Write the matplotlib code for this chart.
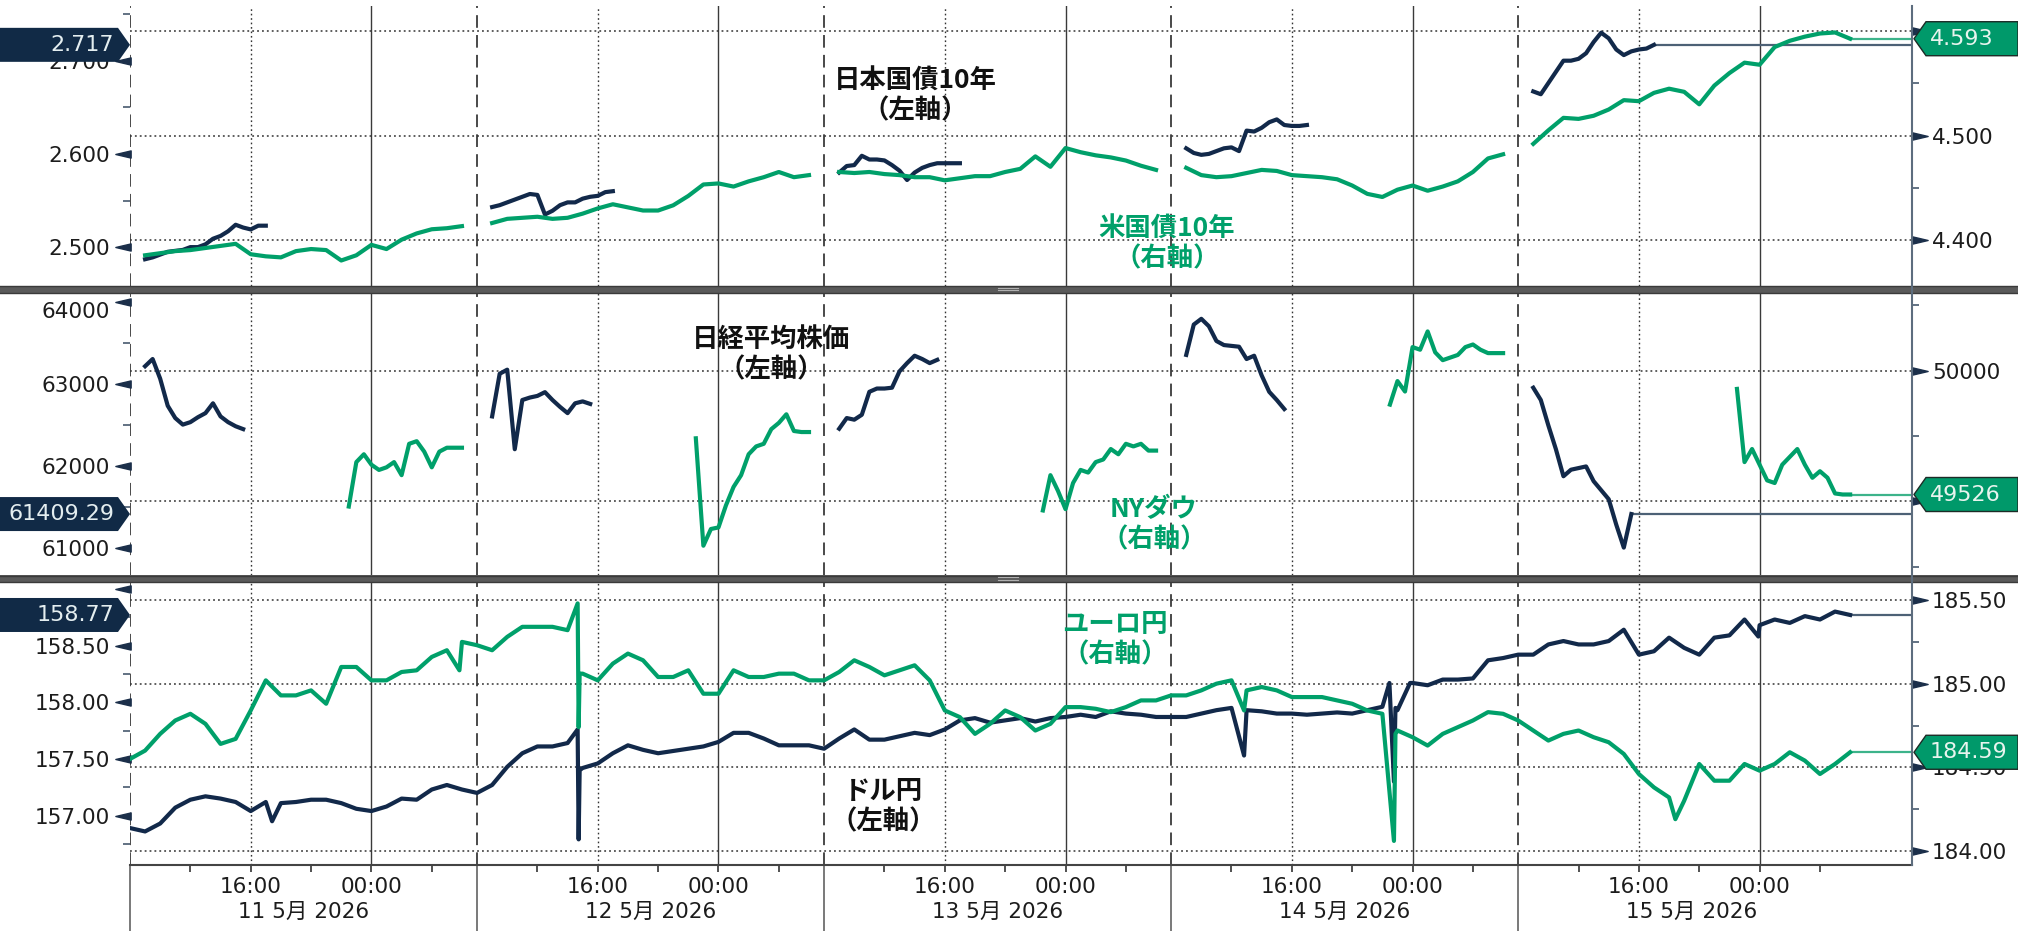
import numpy as np
import pandas as pd
import matplotlib
matplotlib.use("Agg")
import matplotlib.pyplot as plt
import matplotlib.transforms as mtrans
from matplotlib.patches import Polygon, Rectangle
from matplotlib.path import Path
from matplotlib.lines import Line2D

plt.rcParams['font.family'] = ['DejaVu Sans', 'Noto Sans CJK JP']

# ---------------- data ----------------
session_dates = ["2026-05-11", "2026-05-12", "2026-05-13", "2026-05-14", "2026-05-15"]
day_labels = ["11 5月 2026", "12 5月 2026", "13 5月 2026", "14 5月 2026", "15 5月 2026"]
x_major_labels = ["16:00", "00:00"]

# Japan 10Y JGB yield (left axis, top panel), 30-min from 09:00
jgb_11 = [2.487, 2.489, 2.492, 2.495, 2.496, 2.497, 2.500, 2.500, 2.503, 2.509, 2.512, 2.517, 2.524, 2.521, 2.519, 2.523, 2.523]
jgb_12 = [2.543, 2.545, 2.548, 2.551, 2.554, 2.557, 2.556, 2.535, 2.539, 2.545, 2.548, 2.548, 2.552, 2.554, 2.555, 2.559, 2.560]
jgb_13 = [2.580, 2.587, 2.588, 2.598, 2.594, 2.594, 2.593, 2.588, 2.582, 2.572, 2.580, 2.585, 2.588, 2.590, 2.590, 2.590, 2.590]
jgb_14 = [2.606, 2.601, 2.599, 2.600, 2.603, 2.606, 2.607, 2.603, 2.625, 2.624, 2.628, 2.634, 2.637, 2.631, 2.630, 2.630, 2.631]
jgb_15 = [2.667, 2.664, 2.676, 2.688, 2.700, 2.700, 2.702, 2.708, 2.720, 2.730, 2.724, 2.712, 2.706, 2.710, 2.712, 2.713, 2.717]
jgb_last = 2.717

# US 10Y yield (right axis, top panel), hourly from 09:00
ust_11 = [4.385, 4.387, 4.389, 4.390, 4.392, 4.394, 4.396, 4.386, 4.384, 4.383, 4.389, 4.391, 4.390, 4.380, 4.385, 4.395, 4.391, 4.400, 4.406, 4.410, 4.411, 4.413]
ust_12 = [4.416, 4.420, 4.421, 4.422, 4.420, 4.421, 4.425, 4.430, 4.434, 4.431, 4.428, 4.428, 4.433, 4.442, 4.453, 4.454, 4.451, 4.456, 4.460, 4.465, 4.460, 4.462]
ust_13 = [4.465, 4.464, 4.465, 4.463, 4.462, 4.460, 4.460, 4.457, 4.459, 4.461, 4.461, 4.465, 4.468, 4.480, 4.470, 4.488, 4.484, 4.481, 4.479, 4.476, 4.471, 4.467]
ust_14 = [4.469, 4.462, 4.460, 4.461, 4.464, 4.467, 4.466, 4.462, 4.461, 4.460, 4.458, 4.452, 4.444, 4.441, 4.448, 4.452, 4.447, 4.451, 4.456, 4.465, 4.478, 4.482]
ust_15 = [4.492, 4.505, 4.517, 4.516, 4.519, 4.525, 4.534, 4.533, 4.541, 4.545, 4.542, 4.530, 4.548, 4.560, 4.570, 4.568, 4.585, 4.591, 4.595, 4.598, 4.599, 4.593]
ust_last = 4.593

# Nikkei 225 (left axis, middle panel), 30-min from 09:00
nk_11 = [63212, 63300, 63060, 62730, 62580, 62500, 62530, 62590, 62640, 62760, 62600, 62530, 62480, 62445]
nk_12 = [62600, 63120, 63170, 62200, 62800, 62830, 62850, 62896, 62800, 62716, 62640, 62760, 62783, 62752]
nk_13 = [62450, 62580, 62560, 62620, 62900, 62940, 62940, 62950, 63150, 63250, 63340, 63300, 63250, 63290]
nk_14 = [63350, 63720, 63790, 63700, 63520, 63470, 63460, 63450, 63300, 63340, 63100, 62900, 62800, 62690]
nk_15 = [62950, 62800, 62490, 62200, 61870, 61950, 61970, 61990, 61810, 61700, 61590, 61280, 61000, 61409.29]
nk_last = 61409.29

# NY Dow (right axis, middle panel), 30-min from 22:30
dow_11 = [49480, 49650, 49680, 49640, 49620, 49630, 49650, 49600, 49720, 49730, 49690, 49630, 49690, 49705, 49705, 49705]
dow_12 = [49741, 49330, 49394, 49400, 49485, 49555, 49600, 49680, 49710, 49720, 49776, 49800, 49833, 49769, 49765, 49765]
dow_13 = [49465, 49600, 49540, 49470, 49570, 49620, 49610, 49650, 49660, 49700, 49680, 49720, 49710, 49720, 49694, 49694]
dow_14 = [49870, 49960, 49920, 50090, 50080, 50150, 50070, 50040, 50050, 50060, 50090, 50100, 50080, 50067, 50067, 50067]
dow_15 = [49930, 49650, 49700, 49640, 49580, 49570, 49640, 49670, 49700, 49640, 49590, 49615, 49590, 49530, 49526, 49526]
dow_last = 49526

# USD/JPY (left axis, bottom panel), hourly from 08:00 (23 per session)
usd_11 = [156.89, 156.86, 156.93, 157.07, 157.14, 157.17, 157.15, 157.12, 157.04, 157.12, 157.11, 157.12, 157.14, 157.14, 157.11, 157.06, 157.04, 157.08, 157.15, 157.14, 157.23, 157.27, 157.23]
usd_12 = [157.20, 157.27, 157.43, 157.55, 157.61, 157.61, 157.64, 157.42, 157.46, 157.55, 157.62, 157.58, 157.55, 157.57, 157.59, 157.61, 157.65, 157.73, 157.73, 157.68, 157.62, 157.62, 157.62]
usd_13 = [157.59, 157.68, 157.76, 157.67, 157.67, 157.70, 157.73, 157.71, 157.76, 157.84, 157.86, 157.82, 157.84, 157.86, 157.83, 157.86, 157.87, 157.89, 157.87, 157.92, 157.90, 157.89, 157.87]
usd_14 = [157.87, 157.87, 157.90, 157.93, 157.95, 157.93, 157.92, 157.90, 157.90, 157.89, 157.90, 157.91, 157.90, 157.93, 157.96, 157.93, 158.17, 158.15, 158.20, 158.20, 158.21, 158.37, 158.39]
usd_15 = [158.42, 158.42, 158.51, 158.54, 158.51, 158.51, 158.54, 158.64, 158.42, 158.45, 158.57, 158.48, 158.42, 158.57, 158.59, 158.73, 158.68, 158.73, 158.70, 158.76, 158.73, 158.80, 158.77]
usd_spike_time = ["2026-05-11 17:25", "2026-05-12 14:40", "2026-05-12 14:44", "2026-05-12 14:48",
                  "2026-05-14 12:50", "2026-05-14 22:28", "2026-05-14 22:46", "2026-05-14 22:52",
                  "2026-05-14 23:50", "2026-05-15 23:55"]
usd_spike_val = [156.95, 157.76, 156.79, 157.40, 157.53, 158.17, 157.30, 157.95, 158.17, 158.58]
usd_last = 158.77

# EUR/JPY (right axis, bottom panel), hourly from 08:00 (23 per session)
eur_11 = [184.55, 184.60, 184.70, 184.78, 184.82, 184.76, 184.64, 184.67, 184.84, 185.02, 184.93, 184.93, 184.96, 184.88, 185.10, 185.10, 185.02, 185.02, 185.07, 185.08, 185.16, 185.20, 185.25]
eur_12 = [185.23, 185.20, 185.28, 185.34, 185.34, 185.34, 185.32, 185.06, 185.02, 185.12, 185.18, 185.14, 185.04, 185.04, 185.08, 184.94, 184.94, 185.08, 185.04, 185.04, 185.06, 185.06, 185.02]
eur_13 = [185.02, 185.07, 185.14, 185.10, 185.05, 185.08, 185.11, 185.02, 184.84, 184.80, 184.70, 184.76, 184.84, 184.80, 184.72, 184.76, 184.86, 184.86, 184.85, 184.83, 184.86, 184.90, 184.90]
eur_14 = [184.93, 184.93, 184.96, 185.00, 185.02, 184.96, 184.98, 184.96, 184.92, 184.92, 184.92, 184.90, 184.88, 184.84, 184.82, 184.72, 184.68, 184.63, 184.70, 184.74, 184.78, 184.83, 184.82]
eur_15 = [184.78, 184.72, 184.66, 184.70, 184.72, 184.68, 184.65, 184.58, 184.46, 184.38, 184.32, 184.30, 184.52, 184.42, 184.42, 184.52, 184.48, 184.52, 184.59, 184.54, 184.46, 184.52, 184.59]
eur_spike_time = ["2026-05-12 05:50", "2026-05-12 14:40", "2026-05-12 14:44", "2026-05-12 14:48",
                  "2026-05-14 12:50", "2026-05-14 22:46", "2026-05-14 22:52", "2026-05-15 18:25"]
eur_spike_val = [185.08, 185.48, 184.74, 185.06, 184.84, 184.06, 184.70, 184.19]
eur_last = 184.59

# axis ticks (labels that sit fully under a value tag are left blank)
p1_left_major = [2.5, 2.6, 2.7];  p1_left_minor = [2.55, 2.65, 2.75]
p1_left_labels = ["2.500", "2.600", "2.700"]
p1_right_major = [4.4, 4.5, 4.6]; p1_right_minor = [4.45, 4.55]
p1_right_labels = ["4.400", "4.500", ""]
p2_left_major = [61000, 62000, 63000, 64000]; p2_left_minor = [61500, 62500, 63500]
p2_left_labels = ["61000", "62000", "63000", ""]
p2_right_major = [49500, 50000]; p2_right_minor = [49250, 49750, 50250]
p2_right_labels = ["", "50000"]
p3_left_major = [157.0, 157.5, 158.0, 158.5, 159.0]; p3_left_minor = [156.75, 157.25, 157.75, 158.25, 158.75]
p3_left_labels = ["157.00", "157.50", "158.00", "158.50", ""]
p3_right_major = [184.0, 184.5, 185.0, 185.5]; p3_right_minor = [184.25, 184.75, 185.25]
p3_right_labels = ["184.00", "184.50", "185.00", "185.50"]

# ---------------- helpers ----------------
BASE = pd.Timestamp(session_dates[0] + " 08:00")
HRS_PER_SESSION = 23  # each day shown from 08:00 to 07:00


def to_h(ts):
    ts = pd.DatetimeIndex(ts)
    hours = np.asarray((ts - BASE) / pd.Timedelta(hours=1), dtype=float)
    k = np.floor(hours / 24.0)
    return HRS_PER_SESSION * k + (hours - 24.0 * k)


def sessions(start_hhmm, arrays, freq):
    out = []
    for d, v in zip(session_dates, arrays):
        t = pd.date_range(f"{d} {start_hhmm}", periods=len(v), freq=freq)
        out.append((to_h(t), np.asarray(v, float)))
    return out


def continuous(arrays, spike_t, spike_v):
    times, vals = [], []
    for d, v in zip(session_dates, arrays):
        times += list(pd.date_range(f"{d} 08:00", periods=len(v), freq="h"))
        vals += list(v)
    s = pd.Series(vals + list(spike_v), index=times + list(pd.to_datetime(spike_t))).sort_index()
    return [(to_h(s.index), s.values.astype(float))]


jgb = sessions("09:00", [jgb_11, jgb_12, jgb_13, jgb_14, jgb_15], "30min")
ust = sessions("09:00", [ust_11, ust_12, ust_13, ust_14, ust_15], "h")
nk = sessions("09:00", [nk_11, nk_12, nk_13, nk_14, nk_15], "30min")
dow = sessions("22:30", [dow_11, dow_12, dow_13, dow_14, dow_15], "30min")
usd = continuous([usd_11, usd_12, usd_13, usd_14, usd_15], usd_spike_time, usd_spike_val)
eur = continuous([eur_11, eur_12, eur_13, eur_14, eur_15], eur_spike_time, eur_spike_val)

# ---------------- figure ----------------
W, H = 2018, 931
fig = plt.figure(figsize=(W / 100, H / 100), dpi=100)
XL, XR = 130, 1912
XMAX = 118.1
rows = [(5.5, 286.0), (293.0, 575.0), (582.0, 865.0)]

NAVY = '#12294a'
GREEN = '#00a06a'
GRID = '#333333'
TICKC = '#1c1c1c'
LBL = 15.5

panels = [
    dict(left=jgb, right=ust, llim=(2.4583, 2.7592), rlim=(4.3555, 4.6249),
         lmaj=p1_left_major, lmin=p1_left_minor, rmaj=p1_right_major, rmin=p1_right_minor,
         llab=p1_left_labels, rlab=p1_right_labels,
         llast=jgb_last, rlast=ust_last, ltag='2.717', rtag='4.593'),
    dict(left=nk, right=dow, llim=(60666, 64105), rlim=(49218, 50297),
         lmaj=p2_left_major, lmin=p2_left_minor, rmaj=p2_right_major, rmin=p2_right_minor,
         llab=p2_left_labels, rlab=p2_right_labels,
         llast=nk_last, rlast=dow_last, ltag='61409.29', rtag='49526'),
    dict(left=usd, right=eur, llim=(156.564, 159.061), rlim=(183.916, 185.608),
         lmaj=p3_left_major, lmin=p3_left_minor, rmaj=p3_right_major, rmin=p3_right_minor,
         llab=p3_left_labels, rlab=p3_right_labels,
         llast=usd_last, rlast=eur_last, ltag='158.77', rtag='184.59'),
]

tri_left = Path([(-1, 0), (1, 0.47), (1, -0.47), (-1, 0)],
                [Path.MOVETO, Path.LINETO, Path.LINETO, Path.CLOSEPOLY])
tri_right = Path([(1, 0), (-1, 0.47), (-1, -0.47), (1, 0)],
                 [Path.MOVETO, Path.LINETO, Path.LINETO, Path.CLOSEPOLY])

axes_pairs = []
for (top, bot), P in zip(rows, panels):
    a = fig.add_axes([XL / W, 1 - bot / H, (XR - XL) / W, (bot - top) / H])
    b = a.twinx()
    axes_pairs.append((a, b))
    a.set_xlim(0, XMAX)
    a.set_ylim(*P['llim'])
    b.set_ylim(*P['rlim'])
    for s in list(a.spines.values()) + list(b.spines.values()):
        s.set_visible(False)

    # vertical guides
    for k in range(5):
        a.axvline(23 * k, color='#3a3a3a', lw=1.3, ls=(0, (7, 4)), zorder=0.5)
        a.axvline(23 * k + 8, color=GRID, lw=1.0, ls=(0, (1.2, 2.0)), zorder=0.5)
        a.axvline(23 * k + 16, color='#3a3a3a', lw=1.0, zorder=0.5)
    # horizontal grid on right-axis majors
    tr = mtrans.blended_transform_factory(a.transAxes, b.transData)
    for v in P['rmaj']:
        a.plot([0, 1], [v, v], transform=tr, color=GRID, lw=1.1, ls=(0, (1.2, 2.0)), zorder=0.5)

    # y ticks
    a.set_yticks(P['lmaj'])
    a.set_yticks(P['lmin'], minor=True)
    b.set_yticks(P['rmaj'])
    b.set_yticks(P['rmin'], minor=True)
    a.set_yticklabels(P['llab'])
    b.set_yticklabels(P['rlab'])
    a.tick_params(axis='y', which='major', length=0, pad=14.5, labelsize=LBL, labelcolor=TICKC)
    b.tick_params(axis='y', which='major', length=0, pad=14.5, labelsize=LBL, labelcolor=TICKC)
    for ax_ in (a, b):
        ax_.tick_params(axis='y', which='minor', length=5, width=1.3, color='#56677a')
    a.tick_params(axis='x', which='both', bottom=False, labelbottom=False)

    # triangle major tick marks
    off_l = mtrans.ScaledTranslation(-7.5 / 100, 0, fig.dpi_scale_trans)
    off_r = mtrans.ScaledTranslation(7.5 / 100, 0, fig.dpi_scale_trans)
    a.plot([0] * len(P['lmaj']), P['lmaj'], ls='none', marker=tri_left, ms=11, color='#1b2f4a',
           transform=a.get_yaxis_transform() + off_l, clip_on=False, zorder=5)
    b.plot([1] * len(P['rmaj']), P['rmaj'], ls='none', marker=tri_right, ms=11, color='#1b2f4a',
           transform=b.get_yaxis_transform() + off_r, clip_on=False, zorder=5)

    # series
    for t, v in P['left']:
        a.plot(t, v, color=NAVY, lw=3.0, zorder=3)
    for t, v in P['right']:
        b.plot(t, v, color=GREEN, lw=3.0, zorder=3)
    tl = P['left'][-1][0][-1]
    tr_ = P['right'][-1][0][-1]
    a.plot([tl, XMAX], [P['llast'], P['llast']], color='#4d6176', lw=1.6, zorder=2)
    b.plot([tr_, XMAX], [P['rlast'], P['rlast']], color='#3cb38a', lw=1.6, zorder=2)

# 64000 label sits a little below its tick (top edge of the panel)
p2a = axes_pairs[1][0]
p2a.text(0, 64000, '64000', transform=p2a.get_yaxis_transform() + mtrans.ScaledTranslation(-20 / 100, -10 / 100, fig.dpi_scale_trans),
         ha='right', va='center', fontsize=LBL, color=TICKC, clip_on=False)

# bottom x axis
a3 = axes_pairs[2][0]
xmaj, xlab, xmin = [], [], []
for k in range(5):
    xmaj += [23 * k + 8, 23 * k + 16]
    xlab += x_major_labels
    xmin += [23 * k + 4, 23 * k + 12, 23 * k + 20]
a3.set_xticks(xmaj)
a3.set_xticklabels(xlab)
a3.set_xticks(xmin, minor=True)
a3.tick_params(axis='x', which='both', bottom=True, labelbottom=True, length=5, width=1.2,
               color='#333333', pad=3.5, labelsize=LBL, labelcolor=TICKC)
a3.spines['bottom'].set_visible(True)
a3.spines['bottom'].set_color('#444444')
a3.spines['bottom'].set_linewidth(1.5)
bt = mtrans.blended_transform_factory(a3.transData, a3.transAxes)
for k in range(5):
    a3.plot([23 * k, 23 * k], [0, -0.3], transform=bt, clip_on=False, color='#555555', lw=1.1)
ft = mtrans.blended_transform_factory(a3.transData, fig.transFigure)
for k, lab in enumerate(day_labels):
    a3.text(23 * k + 11.5, 1 - 912 / H, lab, transform=ft, ha='center', va='center',
            fontsize=LBL, color=TICKC)

# separators between panels
for y0, y1 in [(285.5, 293.0), (575.0, 582.0)]:
    fig.add_artist(Rectangle((0, 1 - y1 / H), 1, (y1 - y0) / H, transform=fig.transFigure,
                             facecolor='#5a5a5a', edgecolor='none', zorder=5))
    for yy in (y0 + 0.5, y1 - 0.5):
        fig.add_artist(Line2D([0, 1], [1 - yy / H] * 2, transform=fig.transFigure,
                              color='#3a3a3a', lw=1.0, zorder=5))
    ym = (y0 + y1) / 2
    for dy in (-1.2, 1.2):
        fig.add_artist(Line2D([998 / W, 1018 / W], [1 - (ym + dy) / H] * 2, transform=fig.transFigure,
                              color='#b0b0b0', lw=0.8, zorder=5))

# right axis line (full height)
fig.add_artist(Line2D([XR / W, XR / W], [1 - 5.5 / H, 1 - 865 / H], transform=fig.transFigure,
                      color='#5d6d7e', lw=1.5, zorder=6))

# value tags
fig.canvas.draw()
ident = mtrans.IdentityTransform()
for (a, b), P in zip(axes_pairs, panels):
    yl = a.transData.transform((0, P['llast']))[1]
    yr = b.transData.transform((0, P['rlast']))[1]
    hh = 17
    fig.add_artist(Polygon([(0, yl - hh), (118, yl - hh), (130, yl), (118, yl + hh), (0, yl + hh)],
                           closed=True, transform=ident, facecolor='#112a46', edgecolor='none', zorder=7))
    fig.text(114, yl, P['ltag'], transform=ident, ha='right', va='center', fontsize=16,
             color='#e4eef0', zorder=8)
    fig.add_artist(Polygon([(1914, yr), (1926, yr + hh), (W, yr + hh), (W, yr - hh), (1926, yr - hh)],
                           closed=True, transform=ident, facecolor='#00996a', edgecolor='#1c2b26',
                           lw=1.0, zorder=7))
    fig.text(1930, yr, P['rtag'], transform=ident, ha='left', va='center', fontsize=16,
             color='#e8f4ee', zorder=8)

# series annotations
notes = [
    ("日本国債10年\n（左軸）", 915, 96, '#111111'),
    ("米国債10年\n（右軸）", 1167, 244, GREEN),
    ("日経平均株価\n（左軸）", 771, 355, '#111111'),
    ("NYダウ\n（右軸）", 1154, 525, GREEN),
    ("ユーロ円\n（右軸）", 1115, 640, GREEN),
    ("ドル円\n（左軸）", 883, 807, '#111111'),
]
for s, x, y, c in notes:
    fig.text(x / W, 1 - y / H, s, ha='center', va='center', fontsize=19, fontweight='bold',
             color=c, linespacing=1.15, family=['Noto Sans CJK JP', 'DejaVu Sans'], zorder=8)

fig.savefig("out.png", dpi=100, facecolor='white')
